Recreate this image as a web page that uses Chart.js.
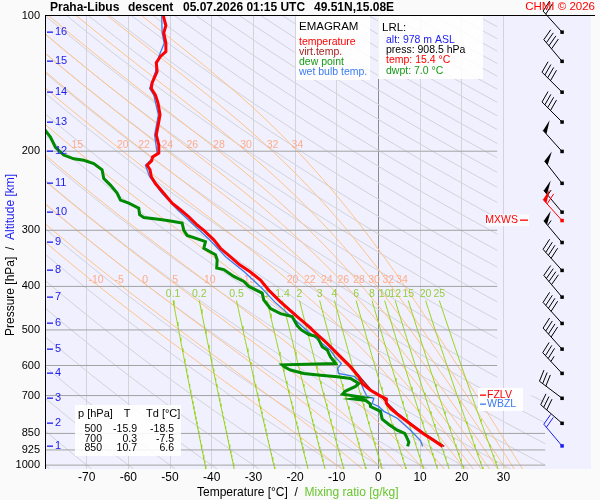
<!DOCTYPE html>
<html lang="en">
<head>
<meta charset="UTF-8">
<title>Emagram Praha-Libus</title>
<style>
  html, body { margin: 0; padding: 0; background: #fafafa; }
  #wrap { width: 600px; height: 500px; }
</style>
</head>
<body>
<div id="wrap"><canvas id="emagram"></canvas></div>
<script src="https://cdn.jsdelivr.net/npm/chart.js"></script>
<script>
// sounding: [pressure hPa, value °C]
const temperature = [
  [100,-51.6],[105,-51.0],[109,-51.5],[115,-51.0],[120,-51.0],[123,-52.3],[127,-53.3],[133,-53.1],
  [141,-54.3],[145,-54.5],[150,-53.5],[156,-52.9],[166,-52.4],[174,-52.8],[184,-53.3],[194,-52.7],
  [202,-52.7],[206,-54.2],[210,-54.4],[215,-55.5],[220,-54.8],[228,-54.5],[236,-53.5],[248,-51.5],
  [261,-49.5],[270,-47.5],[280,-45.5],[292,-43.5],[300,-41.9],[315,-39.5],[329,-37.9],[344,-35.5],
  [358,-33.3],[371,-30.8],[387,-28.3],[408,-26.3],[433,-23.5],[467,-19.5],[496,-16.2],[500,-15.9],
  [536,-12.3],[574,-9.1],[604,-6.7],[636,-4.7],[658,-3.9],[681,-1.9],[700,0.3],[712,1.9],[728,1.9],
  [750,3.0],[767,4.3],[808,7.5],[850,10.7],[880,13.2],[908.5,15.4]
];
const virtualTemp = [
  [400,-27.0],[433,-23.4],[467,-19.4],[500,-15.8],[536,-12.1],[574,-8.9],[604,-6.5],[636,-4.5],
  [681,-1.7],[700,0.5],[728,2.1],[767,4.6],[808,7.8],[850,11.0],[880,13.5],[908.5,15.8]
];
const dewPoint = [
  [170,-83],[179.5,-80],[186,-78.7],[196,-77.5],[204,-75.5],[208,-73.1],[209.5,-70.7],[213,-68.3],
  [220,-66.3],[230,-65.9],[238,-64.3],[248,-62.7],[257,-61.9],[261,-59.9],[268,-57.5],[277,-57.3],
  [281,-56.3],[284,-52.3],[286,-49.9],[289,-47.1],[300,-46.7],[308,-45.9],[315,-42.7],[318,-41.5],
  [329,-41.9],[340,-39.1],[349,-38.7],[364,-38.8],[367,-37.1],[380,-34.7],[390,-32.3],[400,-31.1],
  [414,-27.9],[429,-27.5],[448,-25.9],[460,-23.5],[467,-20.7],[489,-19.5],[500,-18.5],[512,-16.7],
  [517,-14.7],[545,-13.5],[554,-12.3],[574,-11.5],[590,-10.5],[594,-10.3],[598,-23.1],[605,-22.5],
  [614,-21.1],[625,-17.9],[631,-13.9],[636,-9.9],[641,-6.7],[658,-4.7],[668,-5.5],[685,-8.0],
  [695,-8.6],[702,-5.5],[707,-3.6],[712,-6.0],[718,-3.0],[730,-2.0],[741,-1.9],[759,0.5],
  [790,0.9],[812,2.5],[836,4.5],[850,6.3],[860,6.6],[889,7.3],[908.5,7.0]
];
const wetBulb = [
  [100,-52.0],[109,-51.9],[115,-51.4],[123,-52.7],[133,-53.5],[145,-54.9],[150,-53.9],[166,-52.8],
  [184,-53.7],[202,-53.1],[210,-54.8],[215,-55.9],[228,-54.9],[248,-52.0],[270,-48.2],[292,-44.3],
  [315,-40.5],[344,-36.6],[371,-32.2],[400,-28.4],[433,-24.9],[467,-20.9],[500,-17.3],[536,-13.5],
  [554,-11.6],[574,-10.4],[594,-8.9],[610,-9.8],[625,-9.6],[634,-5.9],[652,-4.3],[681,-3.5],
  [704,-2.7],[710,-1.1],[729,-1.5],[741,0.1],[759,1.3],[786,4.5],[836,7.7],[882,10.1],[908.5,10.6]
];

const pressureTicks = [100, 200, 300, 400, 500, 600, 700, 850, 925, 1000];
const tempTicks = [-70, -60, -50, -40, -30, -20, -10, 0, 10, 20, 30];
const altKm = [1, 2, 3, 4, 5, 6, 7, 8, 9, 10, 11, 12, 13, 14, 15, 16];
const altP = [905, 806, 709, 624, 551, 483, 422, 368, 319, 273, 235.5, 200, 172, 147.6, 126, 108.5];
const windDir = [320, 311, 307, 317, 318, 318, 320, 318, 320, 320, 322, 318, 315, 315, 320, 318];
const windSpd = [20, 30, 30, 35, 40, 40, 40, 40, 55, 55, 50, 50, 40, 40, 40, 20];
const mxws = { p: 285, dir: 318, spd: 60 };
const fzlvP = 698, wbzlP = 731;

const thetaW = [-10, -5, 0, 5, 10, 15, 20, 22, 24, 26, 28, 30, 32, 34];
const mixRatio = [0.1, 0.2, 0.5, 1, 1.4, 2, 3, 4, 6, 8, 10, 12, 15, 20, 25];

const tableP = [500, 700, 850];
const tableT = ['-15.9', '0.3', '10.7'];
const tableTd = ['-18.5', '-7.5', '6.6'];
const lrl = { alt: 978, press: '908.5', temp: '15.4', dwpt: '7.0' };

const FONT = 'Liberation Sans, Arial, Helvetica, sans-serif';
Chart.defaults.font.family = FONT;

const toPts = arr => arr.map(([p, t]) => ({ x: t, y: p }));

// thermodynamic background lines of the diagram
function satMix(Tk, p) {
  const es = 6.112 * Math.exp(17.67 * (Tk - 273.15) / (Tk - 29.65));
  return 0.622 * es / (p - es);
}
function moistRate(Tk, p) {
  const rs = satMix(Tk, p);
  return (287.04 * Tk + 2.501e6 * rs) /
    (1005.7 + 2.501e6 * 2.501e6 * rs * 0.622 / (287.04 * Tk * Tk)) / p;
}
function moistAdiabat(tw) {
  let T = tw + 273.15, p = 1000;
  const out = [{ x: T + moistRate(T, 1000) * 20 - 273.15, y: 1020 }, { x: tw, y: 1000 }];
  while (p > 100) {
    const k1 = moistRate(T, p);
    const k2 = moistRate(T - k1 * 2, p - 2);
    T -= (k1 + k2); p -= 2;
    if (p % 10 === 0) out.push({ x: T - 273.15, y: p });
  }
  return out;
}
function dryAdiabat(thC) {
  const out = [];
  for (let p = 100; p <= 1020; p += 20) {
    out.push({ x: (thC + 273.15) * Math.pow(p / 1000, 0.2857) - 273.15, y: p });
  }
  return out;
}
function mixLine(r) {
  const out = [];
  for (let p = 430; p <= 1020; p += 10) {
    const L = Math.log(p * r / (622 + r) / 6.112);
    out.push({ x: 243.5 * L / (17.67 - L), y: p });
  }
  return out;
}

const moistLines = thetaW.map(moistAdiabat);
const mixLines = mixRatio.map(mixLine);

const datasets = [];
const ref = (data, color, order) => ({
  data, borderColor: color, borderWidth: 1, showLine: true, pointRadius: 0,
  tension: 0, order, refClip: true
});
for (let th = -80; th <= 310; th += 10) datasets.push(ref(dryAdiabat(th), '#d2d2d9', 40));
moistLines.forEach(d => datasets.push(ref(d, '#ffc388', 30)));
mixLines.forEach(d => datasets.push(ref(d, '#9ad41a', 20)));
pressureTicks.slice(1).forEach(p => {
  const d = ref([{ x: -80, y: p }, { x: p <= 700 ? 28.5 : 40, y: p }], '#a3a3a3', 15);
  d.refClip = false;
  datasets.push(d);
});
const prof = (data, color, width, order) => ({
  data: toPts(data), borderColor: color, borderWidth: width, showLine: true,
  pointRadius: 0, tension: 0, order
});
const tvSet = prof(virtualTemp, '#a01818', 1.5, 4);
tvSet.labelsBefore = true;
datasets.push(tvSet);
datasets.push(prof(wetBulb, '#3b7cf0', 1.3, 3));
datasets.push(prof(dewPoint, '#008a00', 3, 2));
datasets.push(prof(temperature, '#ff0000', 3, 1));

function txt(ctx, s, x, y, size, color, align, bold) {
  ctx.font = (bold ? 'bold ' : '') + size + 'px ' + FONT;
  ctx.fillStyle = color;
  ctx.textAlign = align || 'left';
  ctx.textBaseline = 'middle';
  ctx.fillText(s, x, y);
  return ctx.measureText(s).width;
}

function drawBarb(ctx, x, y, dir, spd, color) {
  const b = dir * Math.PI / 180;
  const ux = Math.sin(b), uy = -Math.cos(b);
  const L = 28, F = 12;
  const tx = x + ux * L, ty = y + uy * L;
  const fb = (dir + 75) * Math.PI / 180;
  const fx = Math.sin(fb) * F, fy = -Math.cos(fb) * F;
  const at = d => [tx - ux * d, ty - uy * d];
  ctx.strokeStyle = color; ctx.fillStyle = color; ctx.lineWidth = 1;
  ctx.beginPath(); ctx.moveTo(x, y); ctx.lineTo(tx, ty); ctx.stroke();
  ctx.fillRect(x - 1.5, y - 1.5, 3.5, 3.5);
  let s = Math.round(spd / 5) * 5, d = 0;
  while (s >= 50) {
    const [ax, ay] = at(d), [bx, by] = at(d + 5);
    ctx.beginPath(); ctx.moveTo(ax, ay); ctx.lineTo(ax + fx, ay + fy); ctx.lineTo(bx, by);
    ctx.closePath(); ctx.fill();
    d += 6; s -= 50;
  }
  while (s >= 10) {
    const [ax, ay] = at(d);
    ctx.beginPath(); ctx.moveTo(ax, ay); ctx.lineTo(ax + fx, ay + fy); ctx.stroke();
    d += 4; s -= 10;
  }
  if (s >= 5) {
    if (d === 0) d = 4;
    const [ax, ay] = at(d);
    ctx.beginPath(); ctx.moveTo(ax, ay); ctx.lineTo(ax + fx / 2, ay + fy / 2); ctx.stroke();
  }
}

function lineLabels(chart) {
  const { ctx, scales: { x, y } } = chart;
  ctx.save();
  moistLines.forEach((pts, i) => {
    [200, 400].forEach(p => {
      const pt = pts.find(q => q.y === p);
      if (!pt || pt.x < -78 || pt.x > 28) return;
      txt(ctx, String(thetaW[i]), x.getPixelForValue(pt.x) - (p === 400 ? 3 : 0), y.getPixelForValue(p) - 6,
        10.5, 'rgb(255,172,140)', 'center');
    });
  });
  mixLines.forEach((pts, i) => {
    txt(ctx, String(mixRatio[i]), x.getPixelForValue(pts[0].x), y.getPixelForValue(430) - 6,
      10.5, 'rgb(150,205,60)', 'center');
  });
  ctx.restore();
}

const emagramDecor = {
  id: 'emagramDecor',
  beforeDraw(chart) {
    const { ctx, chartArea: a } = chart;
    ctx.save();
    ctx.fillStyle = '#f0f0fe';
    ctx.fillRect(a.left, a.top, a.right - a.left, a.bottom - a.top);
    ctx.restore();
  },
  beforeDatasetDraw(chart, args) {
    const ds = chart.data.datasets[args.index];
    if (ds.labelsBefore) lineLabels(chart);
    if (ds.refClip) {
      const { ctx, chartArea: a, scales: { x, y } } = chart;
      const xa = x.getPixelForValue(28.5), xb = x.getPixelForValue(40), ym = y.getPixelForValue(700);
      ctx.save();
      ctx.beginPath();
      ctx.moveTo(a.left, a.top); ctx.lineTo(xa, a.top); ctx.lineTo(xa, ym);
      ctx.lineTo(xb, ym); ctx.lineTo(xb, a.bottom); ctx.lineTo(a.left, a.bottom);
      ctx.closePath(); ctx.clip();
    }
  },
  afterDatasetDraw(chart, args) {
    if (chart.data.datasets[args.index].refClip) chart.ctx.restore();
  },
  afterDatasetsDraw(chart) {
    const { ctx, chartArea: a, scales: { x, y } } = chart;
    ctx.save();
    // altitude ticks
    altKm.forEach((km, i) => {
      const yy = y.getPixelForValue(altP[i]);
      ctx.fillStyle = '#1c1cf0';
      ctx.fillRect(a.left + 2, Math.round(yy) - 0.5, 6, 1.3);
      txt(ctx, String(km), a.left + 10, yy, 11, '#1c1cf0', 'left');
    });
    // legend box
    ctx.fillStyle = 'rgba(255,255,255,0.88)';
    ctx.fillRect(296, a.top, 74, 64);
    txt(ctx, 'EMAGRAM', 299, 27, 11.5, '#000');
    txt(ctx, 'temperature', 299, 42, 10.5, '#ff0000');
    txt(ctx, 'virt.temp.', 299, 52, 10.5, '#a52020');
    txt(ctx, 'dew point', 299, 62, 10.5, '#159a15');
    txt(ctx, 'wet bulb temp.', 299, 72, 10.5, '#3b7cf0');
    // LRL box
    ctx.fillStyle = 'rgba(255,255,255,0.88)';
    ctx.fillRect(378, a.top, 105, 63);
    txt(ctx, 'LRL:', 382, 28, 11.5, '#000');
    txt(ctx, 'alt: ' + lrl.alt + ' m ASL', 386, 40, 10.5, '#1c1cf0');
    txt(ctx, 'press: ' + lrl.press + ' hPa', 386, 50, 10.5, '#000');
    txt(ctx, 'temp: ' + lrl.temp + ' °C', 386, 60, 10.5, '#ff0000');
    txt(ctx, 'dwpt: ' + lrl.dwpt + ' °C', 386, 71, 10.5, '#159a15');
    // level table
    ctx.fillStyle = 'rgba(255,255,255,0.88)';
    ctx.fillRect(75, 405, 106, 51);
    txt(ctx, 'p [hPa]', 78, 413.5, 11, '#000');
    txt(ctx, 'T', 127, 413.5, 11, '#000', 'center');
    txt(ctx, 'Td [°C]', 146, 413.5, 11, '#000');
    tableP.forEach((p, i) => {
      const yy = 429 + i * 9.7;
      txt(ctx, String(p), 102, yy, 10.5, '#000', 'right');
      txt(ctx, tableT[i], 137, yy, 10.5, '#000', 'right');
      txt(ctx, tableTd[i], 174, yy, 10.5, '#000', 'right');
    });
    // freezing / wet bulb zero levels
    const yf = y.getPixelForValue(fzlvP), yw = y.getPixelForValue(wbzlP);
    ctx.fillStyle = 'rgba(255,255,255,0.9)';
    ctx.fillRect(478, yf - 7, 45, yw - yf + 14);
    ctx.fillStyle = '#ff0000'; ctx.fillRect(480, Math.round(yf) - 0.5, 6, 1.3);
    txt(ctx, 'FZLV', 487, yf + 0.5, 10.5, '#ff0000');
    ctx.fillStyle = '#3b7cf0'; ctx.fillRect(480, Math.round(yw) - 0.5, 6, 1.3);
    txt(ctx, 'WBZL', 487, yw + 0.5, 10.5, '#3b7cf0');
    // max wind
    const ym = y.getPixelForValue(mxws.p);
    ctx.fillStyle = 'rgba(255,255,255,0.7)';
    ctx.fillRect(486, ym - 6, 43, 12);
    txt(ctx, 'MXWS', 518, ym, 10.5, '#ff0000', 'right');
    ctx.fillStyle = '#ff0000'; ctx.fillRect(520, Math.round(ym) - 0.5, 8, 1.3);
    // wind barbs
    const bx = x.getPixelForValue(44);
    altKm.forEach((km, i) => {
      drawBarb(ctx, bx, y.getPixelForValue(altP[i]), windDir[i], windSpd[i], i === 0 ? '#1c1cf0' : '#000');
    });
    drawBarb(ctx, bx, ym, mxws.dir, mxws.spd, '#ff0000');
    ctx.restore();
  },
  afterDraw(chart) {
    const { ctx, chartArea: a } = chart;
    ctx.save();
    ctx.strokeStyle = '#000'; ctx.lineWidth = 1;
    ctx.beginPath();
    ctx.moveTo(a.left, a.top - 0.5); ctx.lineTo(595, a.top - 0.5);
    ctx.moveTo(a.left + 0.5, a.top); ctx.lineTo(a.left + 0.5, a.bottom);
    ctx.stroke();
    // title
    txt(ctx, 'Praha-Libus', 50, 8, 12, '#000', 'left', true);
    txt(ctx, 'descent', 128, 8, 12, '#000', 'left', true);
    txt(ctx, '05.07.2026 01:15 UTC', 183, 8, 12, '#000', 'left', true);
    txt(ctx, '49.51N,15.08E', 314, 8, 12, '#000', 'left', true);
    txt(ctx, 'CHMI © 2026', 595, 7, 11.5, '#ff0000', 'right');
    // x axis title
    let xx = 197;
    xx += txt(ctx, 'Temperature [°C]  /  ', xx, 493, 12, '#000');
    txt(ctx, 'Mixing ratio [g/kg]', xx, 493, 12, '#66c62c');
    // y axis title
    ctx.translate(11, 0);
    ctx.rotate(-Math.PI / 2);
    let yy = -336;
    yy += txt(ctx, 'Pressure [hPa]  /  ', yy, 0, 12, '#000');
    txt(ctx, 'Altitude [km]', yy, 0, 12, '#1c1cf0');
    ctx.restore();
  }
};

new Chart(document.getElementById('emagram'), {
  type: 'scatter',
  data: { datasets },
  options: {
    responsive: true,
    maintainAspectRatio: false,
    animation: false,
    events: [],
    layout: { padding: { top: 16, right: 9, left: 0, bottom: 0 } },
    plugins: { legend: { display: false }, tooltip: { enabled: false } },
    scales: {
      x: {
        type: 'linear', min: -80, max: 51,
        afterFit: s => { s.height = 31; },
        ticks: {
          stepSize: 10, includeBounds: false, padding: 1, color: '#000', font: { size: 12 },
          maxRotation: 0, autoSkip: false,
          callback: v => tempTicks.includes(v) ? String(v) : ''
        },
        grid: {
          drawTicks: false, lineWidth: 1,
          color: c => c.tick.value === 0 ? '#8c8c8c' : (tempTicks.includes(c.tick.value) ? '#d4d4d8' : 'rgba(0,0,0,0)')
        },
        border: { display: false }
      },
      y: {
        type: 'logarithmic', reverse: true, min: 100, max: 1020,
        afterFit: s => { s.width = 45; },
        afterBuildTicks: s => { s.ticks = pressureTicks.map(v => ({ value: v })); },
        ticks: { padding: 5, color: '#000', font: { size: 11 }, autoSkip: false, callback: v => String(v) },
        grid: { display: false, drawTicks: false },
        border: { display: false }
      }
    }
  },
  plugins: [emagramDecor]
});
</script>
</body>
</html>
